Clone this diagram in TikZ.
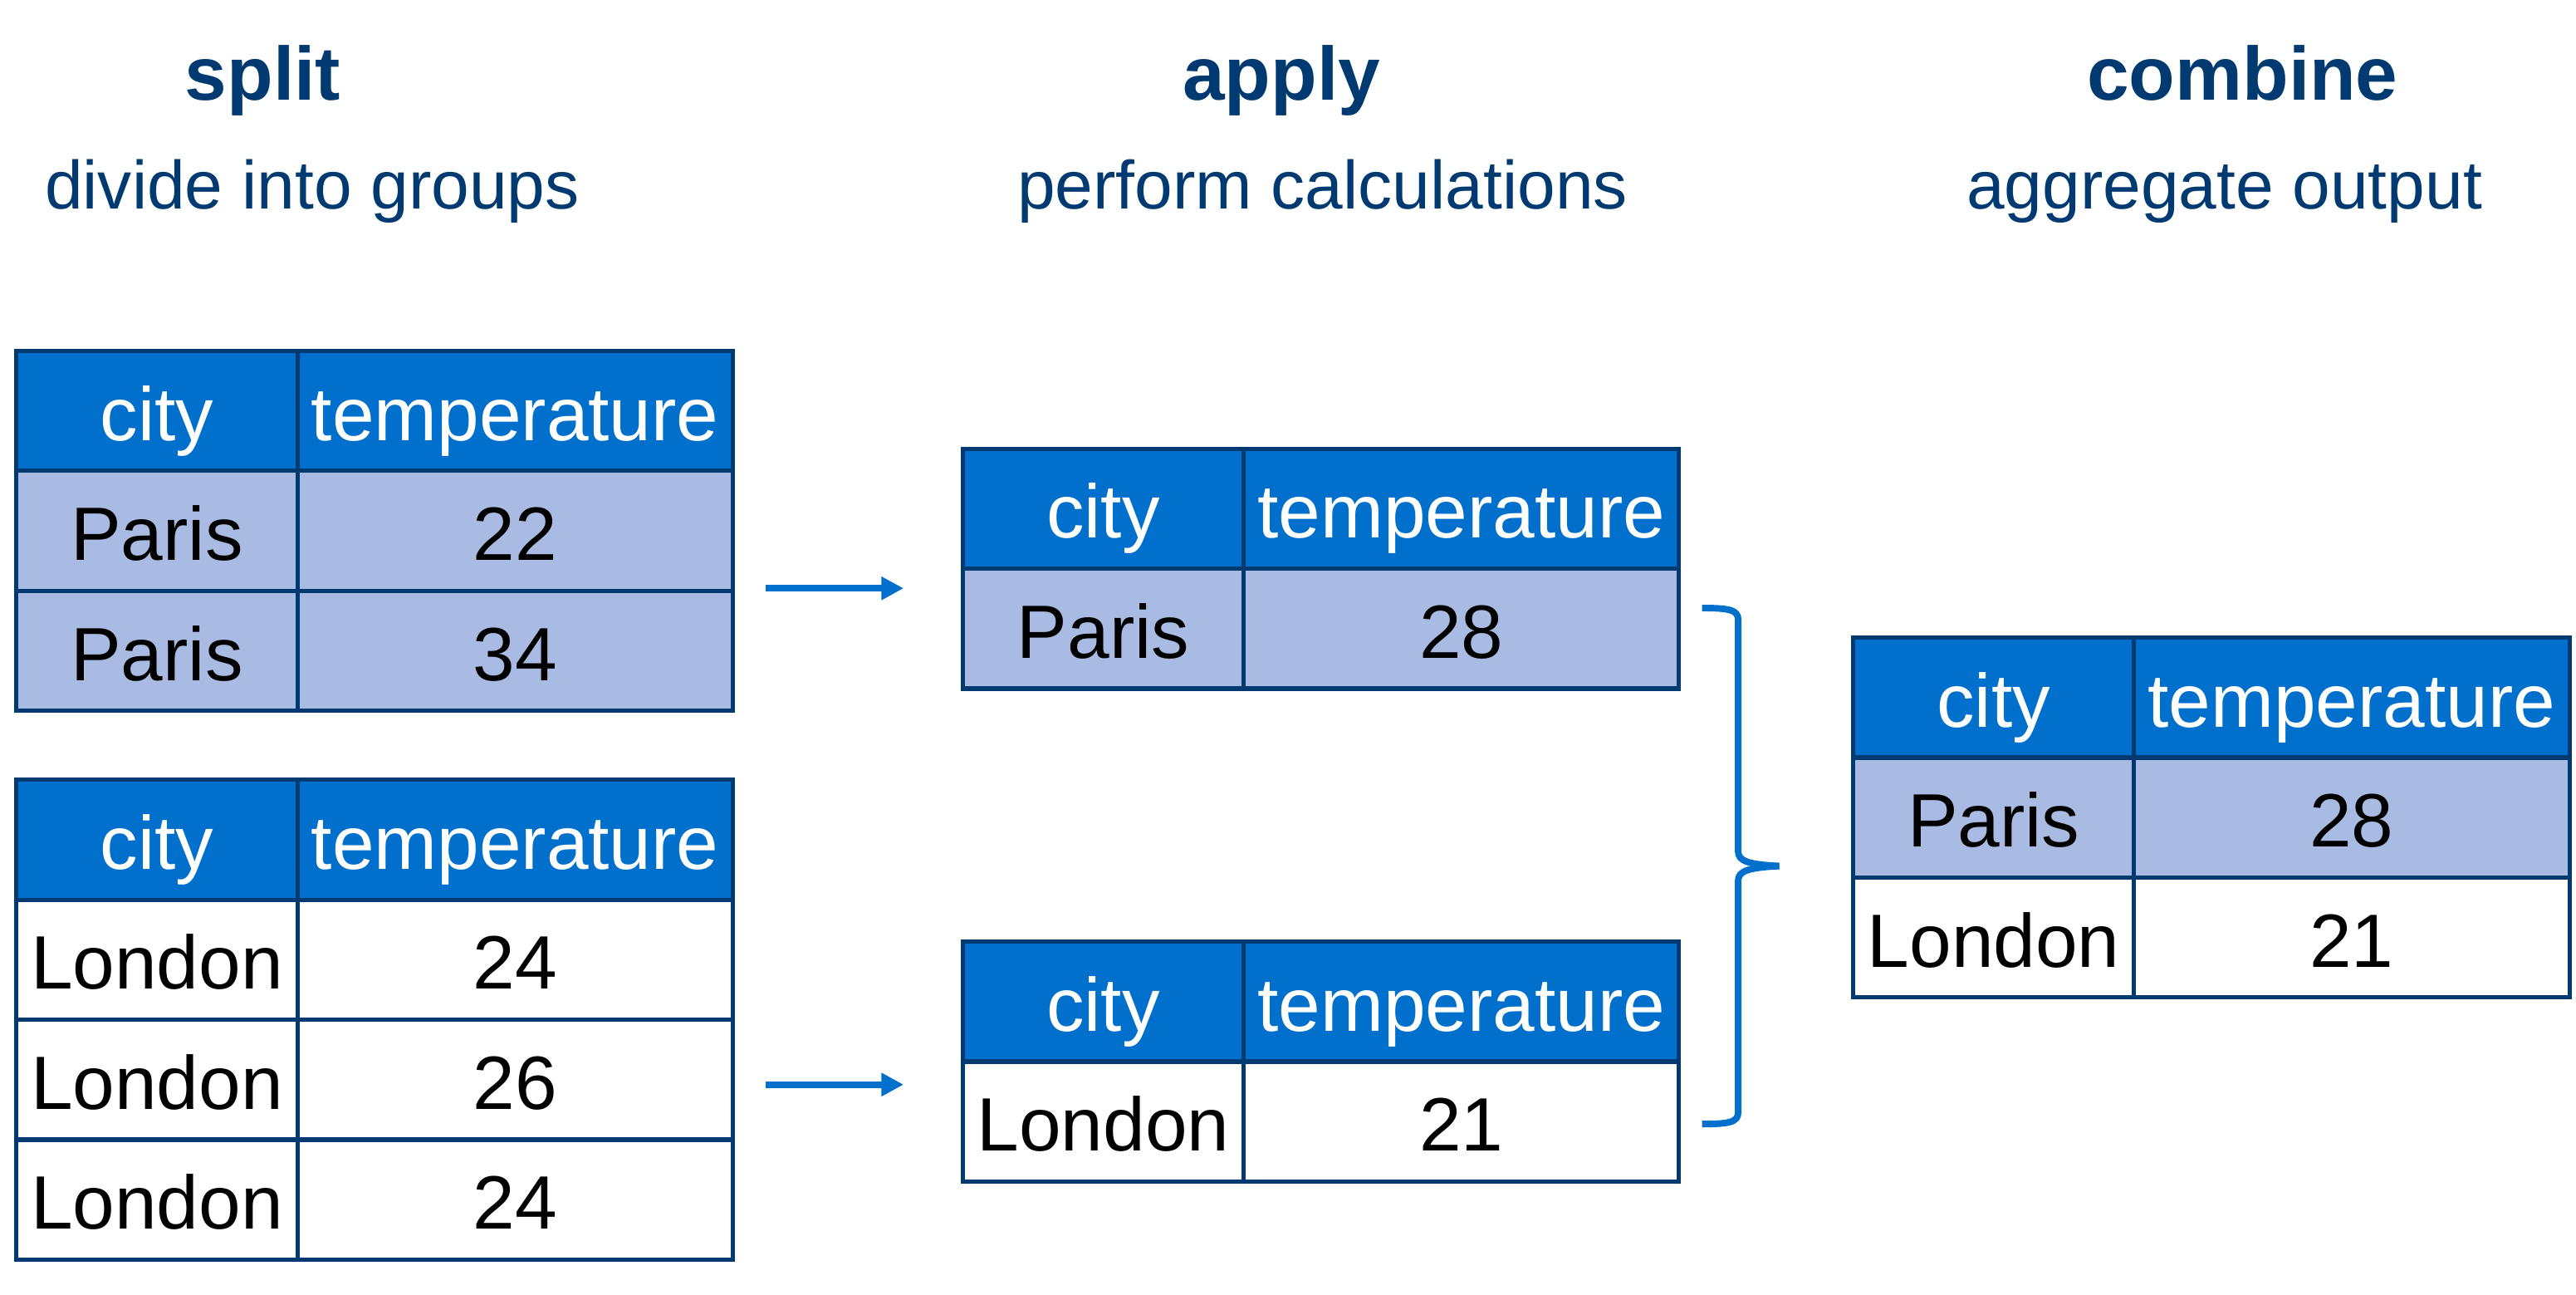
\documentclass[tikz,border=0pt]{standalone}
\usepackage{fontspec}
\setmainfont{Liberation Sans}
\usetikzlibrary{arrows.meta}
\definecolor{hdrblue}{RGB}{0,112,204}
\definecolor{liteblue}{RGB}{170,187,227}
\definecolor{navy}{RGB}{0,58,112}
\tikzset{
  cell/.style={draw=navy, line width=1.3pt, minimum height=36.5pt, inner sep=0pt,
    text height=18pt, text depth=0pt, font=\fontsize{23}{23}\selectfont},
  hdr/.style={cell, fill=hdrblue, text=white},
  lite/.style={cell, fill=liteblue},
  plain/.style={cell, fill=white},
  citycol/.style={minimum width=85.5pt},
  tempcol/.style={minimum width=132.5pt},
  title/.style={anchor=base, text=navy, font=\bfseries\fontsize{23}{23}\selectfont},
  subtitle/.style={anchor=base, text=navy, font=\fontsize{20.75}{21}\selectfont},
  arr/.style={-{Triangle[length=6.75pt, width=6.75pt]}, draw=hdrblue, line width=2pt}
}
\begin{document}
\begin{tikzpicture}[x=0.5pt, y=-0.5pt]
    \useasboundingbox (0,0) rectangle (1568,788);

    % Titles
    \node[title] (Tsplit) at (160, 61) {split};
    \node[subtitle] (Ssplit) at (190, 127) {divide into groups};
    \node[title] (Tapply) at (780, 61) {apply};
    \node[subtitle] (Sapply) at (805, 127) {perform calculations};
    \node[title] (Tcomb) at (1365, 61) {combine};
    \node[subtitle] (Scomb) at (1354, 127) {aggregate output};

    % Split: Paris group
    \node[hdr, citycol] (SPh1) at (95.5, 250) {city};
    \node[hdr, tempcol] (SPh2) at (313.5, 250) {temperature};
    \foreach \t [count=\i] in {22, 34} {
        \node[lite, citycol] (SPc\i) at (95.5, 250+73*\i) {Paris};
        \node[lite, tempcol] (SPt\i) at (313.5, 250+73*\i) {\t};
    }

    % Split: London group
    \node[hdr, citycol] (SLh1) at (95.5, 511) {city};
    \node[hdr, tempcol] (SLh2) at (313.5, 511) {temperature};
    \foreach \t [count=\i] in {24, 26, 24} {
        \node[plain, citycol] (SLc\i) at (95.5, 511+73*\i) {London};
        \node[plain, tempcol] (SLt\i) at (313.5, 511+73*\i) {\t};
    }

    % Apply: Paris
    \node[hdr, citycol] (APh1) at (671.5, 309.5) {city};
    \node[hdr, tempcol] (APh2) at (889.5, 309.5) {temperature};
    \node[lite, citycol] (APc1) at (671.5, 382.5) {Paris};
    \node[lite, tempcol] (APt1) at (889.5, 382.5) {28};

    % Apply: London
    \node[hdr, citycol] (ALh1) at (671.5, 609.5) {city};
    \node[hdr, tempcol] (ALh2) at (889.5, 609.5) {temperature};
    \node[plain, citycol] (ALc1) at (671.5, 682.5) {London};
    \node[plain, tempcol] (ALt1) at (889.5, 682.5) {21};

    % Combine
    \node[hdr, citycol] (CBh1) at (1213.5, 424.5) {city};
    \node[hdr, tempcol] (CBh2) at (1431.5, 424.5) {temperature};
    \node[lite, citycol] (CBc1) at (1213.5, 497.5) {Paris};
    \node[lite, tempcol] (CBt1) at (1431.5, 497.5) {28};
    \node[plain, citycol] (CBc2) at (1213.5, 570.5) {London};
    \node[plain, tempcol] (CBt2) at (1431.5, 570.5) {21};

    % Arrows
    \coordinate (A1s) at (466, 358);
    \coordinate (A1e) at (550, 358);
    \coordinate (A2s) at (466, 660);
    \coordinate (A2e) at (550, 660);
    \draw[arr] (A1s) -- (A1e);
    \draw[arr] (A2s) -- (A2e);

    % Brace
    \draw[hdrblue, line width=2pt]
        (1036,370) .. controls (1052,370) and (1058,371) .. (1058,377)
        -- (1058,518) .. controls (1058,524) and (1064,526) .. (1083,527);
    \draw[hdrblue, line width=2pt]
        (1036,684) .. controls (1052,684) and (1058,683) .. (1058,677)
        -- (1058,536) .. controls (1058,530) and (1064,528) .. (1083,527);
\end{tikzpicture}
\end{document}
